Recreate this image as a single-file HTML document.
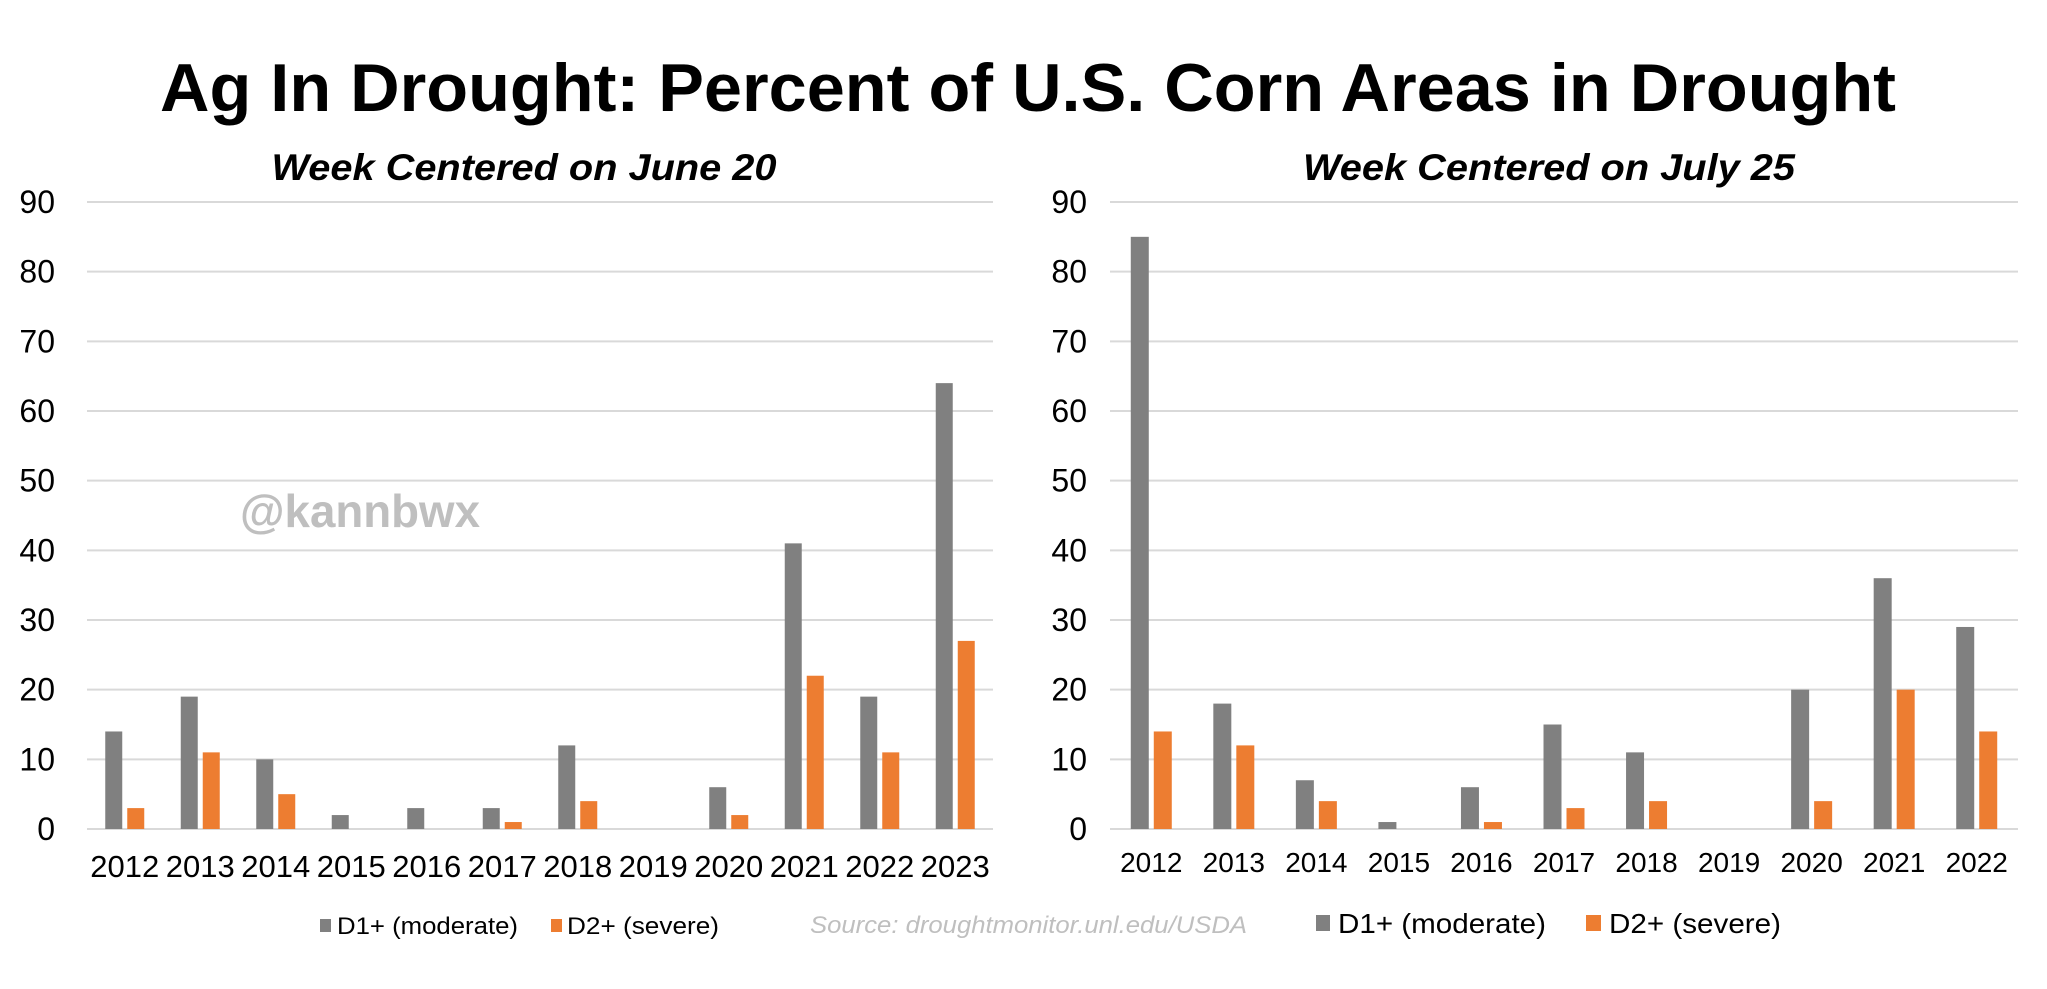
<!DOCTYPE html>
<html><head><meta charset="utf-8"><style>
html,body{margin:0;padding:0;background:#fff;}
svg{display:block;font-family:"Liberation Sans",Arial,sans-serif;}
</style></head><body>
<svg id="chart" width="2047" height="989" viewBox="0 0 2047 989" xmlns="http://www.w3.org/2000/svg">
<text x="1028" y="111" text-anchor="middle" font-size="68" font-weight="bold" textLength="1736" lengthAdjust="spacingAndGlyphs">Ag In Drought: Percent of U.S. Corn Areas in Drought</text>
<text x="524" y="180" text-anchor="middle" font-size="37" font-weight="bold" font-style="italic" textLength="505" lengthAdjust="spacingAndGlyphs">Week Centered on June 20</text>
<text x="1549" y="180" text-anchor="middle" font-size="37" font-weight="bold" font-style="italic" textLength="492" lengthAdjust="spacingAndGlyphs">Week Centered on July 25</text>
<text x="240" y="527" font-size="46" font-weight="bold" fill="#bfbfbf" textLength="240" lengthAdjust="spacingAndGlyphs">@kannbwx</text>
<g id="left"></g>
<g id="right"></g>
<g>
<rect x="320" y="919" width="11" height="13" fill="#808080"/>
<text x="337" y="934" font-size="24" textLength="181" lengthAdjust="spacingAndGlyphs">D1+ (moderate)</text>
<rect x="551" y="919" width="11" height="13" fill="#ed7d31"/>
<text x="567" y="934" font-size="24" textLength="152" lengthAdjust="spacingAndGlyphs">D2+ (severe)</text>
</g>
<text x="810" y="933" font-size="24" font-style="italic" fill="#bfbfbf" textLength="437" lengthAdjust="spacingAndGlyphs">Source: droughtmonitor.unl.edu/USDA</text>
<g>
<rect x="1316" y="915" width="14" height="16" fill="#808080"/>
<text x="1338" y="933" font-size="28" textLength="208" lengthAdjust="spacingAndGlyphs">D1+ (moderate)</text>
<rect x="1586" y="915" width="15" height="16" fill="#ed7d31"/>
<text x="1609" y="933" font-size="28" textLength="172" lengthAdjust="spacingAndGlyphs">D2+ (severe)</text>
</g>
</svg>
<script>
const yTicks = [0,10,20,30,40,50,60,70,80,90];
const leftYears = ["2012","2013","2014","2015","2016","2017","2018","2019","2020","2021","2022","2023"];
const leftD1 = [14,19,10,2,3,3,12,0,6,41,19,64];
const leftD2 = [3,11,5,0,0,1,4,0,2,22,11,27];
const rightYears = ["2012","2013","2014","2015","2016","2017","2018","2019","2020","2021","2022"];
const rightD1 = [85,18,7,1,6,15,11,0,20,36,29];
const rightD2 = [14,12,4,0,1,3,4,0,4,20,14];

const NS = "http://www.w3.org/2000/svg";
function mk(tag, attrs, parent){const e=document.createElementNS(NS,tag);for(const k in attrs)e.setAttribute(k,attrs[k]);parent.appendChild(e);return e;}
function yScale(v){return 829 - v*(829-202)/90;}

function draw(g, prefix, years, d1, d2, x0, x1, labelRight, yrFont, barW, labelY){
  yTicks.forEach(t=>{
    const ln=mk('line',{x1:x0,x2:x1,y1:yScale(t),y2:yScale(t),stroke:'#d9d9d9','stroke-width':2},g);
    
    
    const tx=mk('text',{x:labelRight,y:yScale(t)+11,'text-anchor':'end','font-size':32},g);
    tx.textContent=String(t);
    
    
  });
  const band=(x1-x0)/years.length;
  years.forEach((y,i)=>{
    const c=x0+band*(i+0.5);
    const b1=mk('rect',{x:c-2.5-barW,y:yScale(d1[i]),width:barW,height:yScale(0)-yScale(d1[i]),fill:'#808080'},g);
    
    
    const b2=mk('rect',{x:c+2.5,y:yScale(d2[i]),width:barW,height:yScale(0)-yScale(d2[i]),fill:'#ed7d31'},g);
    
    
    const tx=mk('text',{x:c,y:labelY,'text-anchor':'middle','font-size':yrFont},g);
    tx.textContent=y;
    
    
  });
}
draw(document.getElementById('left'),'left',leftYears,leftD1,leftD2,87,993,55,31,17,877);
draw(document.getElementById('right'),'right',rightYears,rightD1,rightD2,1110,2018,1087,28,18,872);
</script>
</body></html>
